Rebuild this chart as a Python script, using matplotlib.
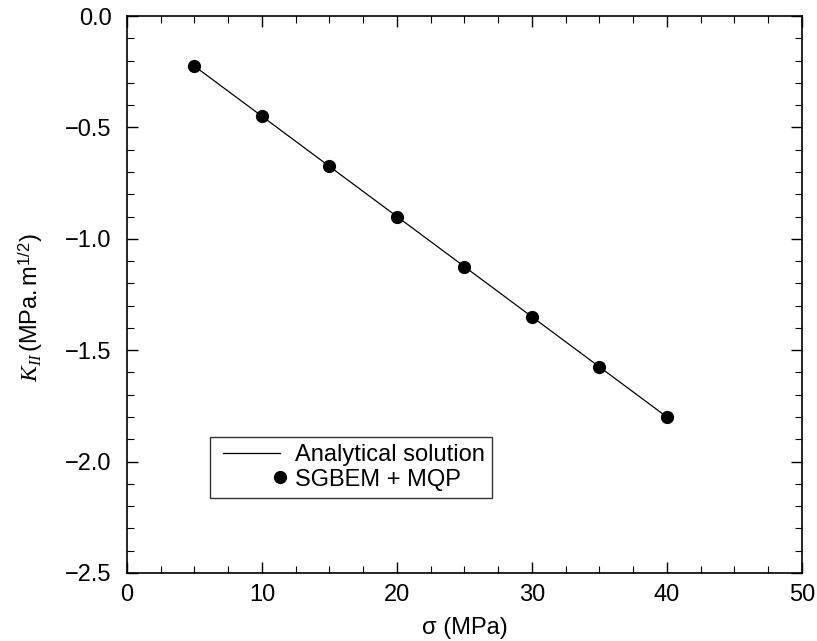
import numpy as np
import matplotlib
matplotlib.use("Agg")
import matplotlib.pyplot as plt
from matplotlib.ticker import MultipleLocator, FuncFormatter
from matplotlib.legend_handler import HandlerLine2D

plt.rcParams['font.family'] = ['Liberation Sans', 'DejaVu Sans']
plt.rcParams['mathtext.fontset'] = 'custom'
plt.rcParams['mathtext.it'] = 'Liberation Serif:italic'
plt.rcParams['mathtext.rm'] = 'Liberation Sans'

# stress values and K_II results
sigma_line = [5, 40]
k_line = [-0.225, -1.8]
sigma_pts = [5, 10, 15, 20, 25, 30, 35, 40]
k_pts = [-0.225, -0.45, -0.675, -0.9, -1.125, -1.35, -1.575, -1.8]


class LineHandler(HandlerLine2D):
    # line starts a little right of the handle box edge
    def get_xdata(self, legend, xdescent, ydescent, width, height, fontsize):
        xdata = np.array([-xdescent + 0.1 * width, -xdescent + width])
        return xdata, xdata


class RightMarkerHandler(HandlerLine2D):
    # single marker at the right end of the handle box
    def get_xdata(self, legend, xdescent, ydescent, width, height, fontsize):
        xdata = np.array([-xdescent + width])
        return xdata, xdata


fig = plt.figure(figsize=(8.17, 6.41), dpi=100)
ax = fig.add_axes([0.1554, 0.1061, 0.8262, 0.8689])

line, = ax.plot(sigma_line, k_line, color="black", lw=0.9, label="Analytical solution")
pts, = ax.plot(sigma_pts, k_pts, "o", color="black", ms=8.5, label="SGBEM + MQP")

ax.set_xlim(0, 50)
ax.set_ylim(-2.5, 0)
ax.xaxis.set_major_locator(MultipleLocator(10))
ax.xaxis.set_minor_locator(MultipleLocator(2.5))
ax.yaxis.set_major_locator(MultipleLocator(0.5))
ax.yaxis.set_minor_locator(MultipleLocator(0.1))
ax.yaxis.set_major_formatter(FuncFormatter(lambda v, p: ("%.1f" % v).replace("-", "\u2212")))
ax.tick_params(which="both", direction="in", top=True, right=True, labelsize=17)
ax.tick_params(which="major", length=8, width=1)
ax.tick_params(which="minor", length=5, width=0.8)
ax.tick_params(axis="y", which="major", pad=11)
ax.tick_params(axis="x", which="major", pad=8)
for s in ax.spines.values():
    s.set_linewidth(1.2)

ax.set_xlabel("σ (MPa)", fontsize=17, labelpad=8)
ax.set_ylabel(r"$K_{II}\,\mathrm{(MPa.m}^{1/2}\mathrm{)}$", fontsize=17)
ax.yaxis.set_label_coords(-0.122, 0.477)

leg = ax.legend(handles=[line, pts], loc="lower left", bbox_to_anchor=(0.123, 0.135),
                fontsize=17, frameon=True, fancybox=False, edgecolor="black",
                handlelength=2.67, borderpad=0.3, labelspacing=0.1,
                borderaxespad=0, handletextpad=0.63,
                handler_map={line: LineHandler(numpoints=2),
                             pts: RightMarkerHandler(numpoints=2)})
leg.get_frame().set_linewidth(1.0)

fig.savefig("out.png", dpi=100)
